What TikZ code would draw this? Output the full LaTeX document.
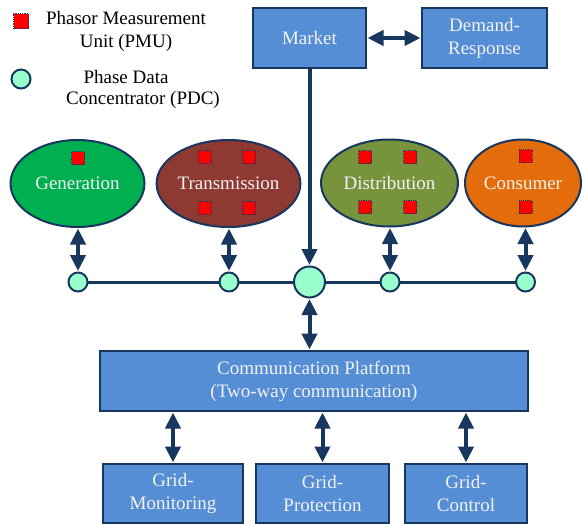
\documentclass[tikz,border=0pt]{standalone}
\usepackage{fontspec}
\setmainfont{Liberation Serif}
\usetikzlibrary{shapes.geometric,arrows.meta}

\definecolor{boxblue}{HTML}{558ED5}
\definecolor{navy}{HTML}{17375E}
\definecolor{gengreen}{HTML}{00B050}
\definecolor{transred}{HTML}{8E3A32}
\definecolor{distolive}{HTML}{77933C}
\definecolor{consorange}{HTML}{E46C0A}
\definecolor{pdcfill}{HTML}{99FFCC}
\definecolor{labelwhite}{HTML}{F2F2F2}

\tikzset{
  txt/.style={font=\fontsize{19}{23}\selectfont, align=center, inner sep=0pt},
  bluebox/.style={txt, draw=navy, line width=2pt, fill=boxblue, text=labelwhite},
  sector/.style={txt, ellipse, draw=navy, line width=2pt, text=labelwhite},
  pmu/.style={draw=navy, densely dotted, line width=0.8pt, fill=red, minimum size=13pt, inner sep=0pt},
  pdc/.style={circle, draw=navy, line width=2pt, fill=pdcfill, inner sep=0pt, minimum size=19pt},
  bigpdc/.style={pdc, minimum size=31pt},
  tip/.tip={Triangle[width=15pt,length=16pt]},
  link/.style={tip-tip, line width=4pt, draw=navy, shorten <=0.5pt, shorten >=0.5pt},
  onelink/.style={-tip, line width=4pt, draw=navy, shorten >=0.5pt},
  bus/.style={line width=3pt, draw=navy}
}

\begin{document}
\begin{tikzpicture}[x=1pt,y=-1pt]
\useasboundingbox (0,0) rectangle (582,525);

% legend
\node[pmu, minimum size=15pt] (lpmu) at (21,21) {};
\node[txt] (lpmutxt) at (126,31) {Phasor Measurement\\Unit (PMU)};
\node[pdc] (lpdc) at (21,79) {};
\node[txt] (lpdc1) at (126,77) {Phase Data};
\node[txt] (lpdc2) at (143,100) {Concentrator (PDC)};

% top boxes
\node[bluebox, minimum width=113pt, minimum height=60pt] (market) at (309.5,38) {Market};
\node[bluebox, minimum width=125pt, minimum height=60pt] (dr) at (484.5,38) {Demand-\\Response};

% sector ellipses
\node[sector, fill=gengreen, minimum width=134pt, minimum height=87pt] (gen) at (77.5,183.5) {Generation};
\node[sector, fill=transred, minimum width=139pt, minimum height=87pt] (trans) at (228.5,183.5) {Transmission};
\node[sector, fill=distolive, minimum width=137pt, minimum height=87pt] (dist) at (389.5,183) {Distribution};
\node[sector, fill=consorange, minimum width=116pt, minimum height=87pt] (cons) at (523,183) {Consumer};

% PMUs inside sectors
\node[pmu] (p1) at (78,158) {};
\node[pmu] (p2) at (204.5,157) {};
\node[pmu] (p3) at (249,157) {};
\node[pmu] (p4) at (204.5,208) {};
\node[pmu] (p5) at (249,208) {};
\node[pmu] (p6) at (365,157) {};
\node[pmu] (p7) at (410,157) {};
\node[pmu] (p8) at (365,207) {};
\node[pmu] (p9) at (410,207) {};
\node[pmu] (p10) at (525.5,156) {};
\node[pmu] (p11) at (525.5,207) {};

% bus with PDCs
\coordinate (busl) at (78,282);
\coordinate (busr) at (525.5,282);
\draw[bus] (busl) -- (busr);
\node[pdc] (c1) at (78,282) {};
\node[pdc] (c2) at (229,282) {};
\node[bigpdc] (c0) at (309.5,282) {};
\node[pdc] (c3) at (390,282) {};
\node[pdc] (c4) at (525.5,282) {};

% communication platform and applications
\node[bluebox, minimum width=428pt, minimum height=60pt] (comm) at (314,381) {Communication Platform\\(Two-way communication)};
\node[bluebox, minimum width=140pt, minimum height=59pt] (mon) at (173,493.5) {Grid-\\Monitoring};
\node[bluebox, minimum width=133pt, minimum height=59pt] (prot) at (322.5,493.5) {Grid-\\Protection};
\node[bluebox, minimum width=122pt, minimum height=59pt] (ctrl) at (466,493.5) {Grid-\\Control};

% connectors
\draw[link] (market.east) -- (dr.west);
\draw[onelink] (market.south -| c0.north) -- (c0.north);
\draw[link] (c1.north |- gen.south) -- (c1.north);
\draw[link] (c2.north |- trans.south) -- (c2.north);
\draw[link] (c3.north |- dist.south) -- (c3.north);
\draw[link] (c4.north |- cons.south) -- (c4.north);
\draw[link] (c0.south) -- (c0.south |- comm.north);
\draw[link] (mon.north |- comm.south) -- (mon.north);
\draw[link] (prot.north |- comm.south) -- (prot.north);
\draw[link] (ctrl.north |- comm.south) -- (ctrl.north);
\end{tikzpicture}
\end{document}
